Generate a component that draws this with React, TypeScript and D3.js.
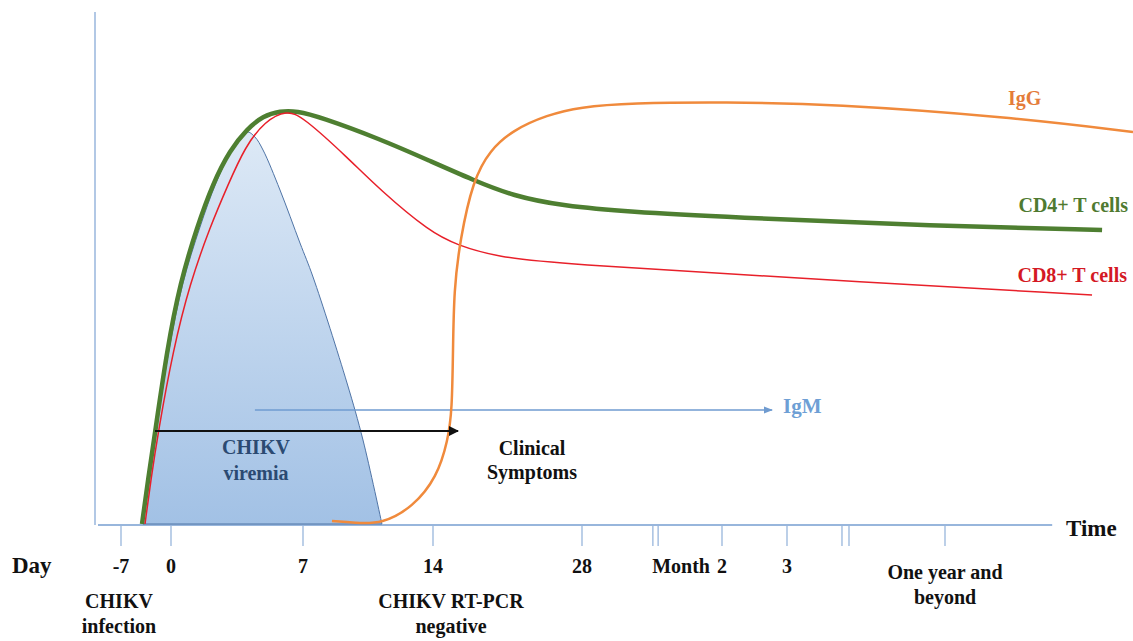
import React from "react";
import * as d3 from "d3";

type P = { day: number; level: number };

// Piecewise timeline: day values of the axis knots and where the axis places them
const knotDays = [-9.5, -7, 0, 7, 14, 28, 60, 90, 365, 700];
const knotPx = [98, 121, 171, 303, 433, 582, 722, 787, 945, 1133];

// Tick marks and labels on the time axis
const tickDays = [-7, 0, 7, 14, 28, 60, 90, 365];
const tickLabels = ["-7", "0", "7", "14", "28", "2", "3", ""];
const breakDays = [44.2, 45.4, 185.7, 197.9];

// Series (day, relative level 0..100)
const cd4: P[] = [
  { day: -4.06, level: 0 }, { day: -3.2, level: 9.0 }, { day: -2.24, level: 18.2 },
  { day: -0.56, level: 34.8 }, { day: 0.48, level: 48.2 }, { day: 1.38, level: 59.4 },
  { day: 2.23, level: 68.2 }, { day: 3.13, level: 74.8 }, { day: 4.03, level: 79.0 },
  { day: 4.88, level: 81.6 }, { day: 5.78, level: 82.6 }, { day: 6.68, level: 82.6 },
  { day: 7.92, level: 81.4 }, { day: 11.15, level: 77.0 }, { day: 13.84, level: 72.6 },
  { day: 17.76, level: 68.8 }, { day: 21.52, level: 65.6 }, { day: 26.21, level: 63.6 },
  { day: 38.97, level: 62.4 }, { day: 61.38, level: 61.4 }, { day: 352.8, level: 59.6 },
  { day: 644.9, level: 58.8 },
];

const cd8: P[] = [
  { day: -3.64, level: 0 }, { day: -2.8, level: 9.0 }, { day: -1.82, level: 18.2 },
  { day: 0.11, level: 34.8 }, { day: 1.01, level: 48.2 }, { day: 2.07, level: 59.4 },
  { day: 3.02, level: 67.8 }, { day: 3.92, level: 75.4 }, { day: 4.98, level: 80.6 },
  { day: 6.15, level: 82.8 }, { day: 7.0, level: 81.4 }, { day: 9.37, level: 73.4 },
  { day: 11.15, level: 66.8 }, { day: 13.84, level: 58.4 }, { day: 16.25, level: 55.8 },
  { day: 20.01, level: 53.4 }, { day: 26.21, level: 52.0 }, { day: 85.8, level: 49.4 },
  { day: 627, level: 45.8 },
];

const viremia: P[] = [
  { day: -3.92, level: 0 }, { day: -2.1, level: 18.2 }, { day: -0.28, level: 34.8 },
  { day: 0.64, level: 48.2 }, { day: 1.54, level: 59.4 }, { day: 2.39, level: 68.2 },
  { day: 3.23, level: 74.8 }, { day: 4.03, level: 78.4 }, { day: 4.45, level: 77.4 },
  { day: 4.88, level: 74.8 }, { day: 5.78, level: 66.8 }, { day: 6.84, level: 56.2 },
  { day: 7.54, level: 49.4 }, { day: 9.37, level: 28.2 }, { day: 10.23, level: 16.8 },
  { day: 11.25, level: 0 },
];

const igg: P[] = [
  { day: 8.56, level: 0.6 }, { day: 9.8, level: 0.2 }, { day: 11.25, level: 0 },
  { day: 12.92, level: 3.4 }, { day: 14.38, level: 9.4 }, { day: 15.41, level: 16.8 },
  { day: 15.79, level: 22.8 }, { day: 15.88, level: 34.8 }, { day: 15.97, level: 46.8 },
  { day: 16.54, level: 56.8 }, { day: 17.76, level: 68.8 }, { day: 19.36, level: 74.8 },
  { day: 21.52, level: 78.8 }, { day: 24.71, level: 81.8 }, { day: 27.81, level: 83.4 },
  { day: 38.97, level: 84.2 }, { day: 61.38, level: 84.4 }, { day: 166.6, level: 84.0 },
  { day: 479.1, level: 81.4 }, { day: 700, level: 78.4 },
];

// Arrows (start and end)
const igmArrow: P[] = [{ day: 4.45, level: 22.8 }, { day: 83.1, level: 22.8 }];
const symptomArrow: P[] = [{ day: -2.24, level: 18.6 }, { day: 16.35, level: 18.6 }];

const FONT = "'Liberation Serif', 'Times New Roman', serif";

export default function App() {
  const W = 1133, H = 641;
  const x = d3.scaleLinear().domain(knotDays).range(knotPx);
  const y = d3.scaleLinear().domain([0, 100]).range([524, 24]);
  const line = d3.line<P>().x((d) => x(d.day)).y((d) => y(d.level)).curve(d3.curveCatmullRom.alpha(0.5));
  const smooth = d3.line<P>().x((d) => x(d.day)).y((d) => y(d.level)).curve(d3.curveBasis);
  const straight = d3.line<P>().x((d) => x(d.day)).y((d) => y(d.level));

  const x0 = x(-9.5);
  const xEnd = x(556);
  const yBase = y(0);
  const tickLen = 22;
  const labelY = 573;

  const bold = { fontFamily: FONT, fontWeight: 700 } as const;

  return (
    <div style={{ position: "fixed", left: 0, top: 0, background: "#fff" }}>
      <svg width={W} height={H} viewBox={`0 0 ${W} ${H}`}>
        <defs>
          <linearGradient id="vir" x1="0" y1="0" x2="0" y2="1">
            <stop offset="0%" stopColor="#dde9f6" />
            <stop offset="100%" stopColor="#a2c1e5" />
          </linearGradient>
          <marker id="arrBlack" viewBox="0 0 10 10" refX="9" refY="5" markerWidth="5" markerHeight="5" orient="auto">
            <path d="M0,0 L10,5 L0,10 Z" fill="#111" />
          </marker>
          <marker id="arrBlue" viewBox="0 0 10 10" refX="9" refY="5" markerWidth="6" markerHeight="6" orient="auto">
            <path d="M0,1 L10,5 L0,9 Z" fill="#6f9bd0" />
          </marker>
        </defs>

        {/* axes */}
        <line x1={x0 - 3} x2={x0 - 3} y1={y(102.4)} y2={yBase + 1} stroke="#98b6dc" strokeWidth={1.5} />
        <line x1={x0} x2={xEnd} y1={yBase + 1} y2={yBase + 1} stroke="#98b6dc" strokeWidth={2} />
        {tickDays.map((d) => (
          <line key={"t" + d} x1={x(d)} x2={x(d)} y1={yBase + 1} y2={yBase + tickLen} stroke="#98b6dc" strokeWidth={1.3} />
        ))}
        {breakDays.map((d) => (
          <line key={"b" + d} x1={x(d)} x2={x(d)} y1={yBase + 1} y2={yBase + tickLen} stroke="#98b6dc" strokeWidth={1.3} />
        ))}

        {/* viremia */}
        <path d={(line(viremia) || "") + "Z"} fill="url(#vir)" stroke="#4f74a6" strokeWidth={1} />

        {/* IgM arrow */}
        <path d={straight(igmArrow) || ""} stroke="#6f9bd0" strokeWidth={1.5} fill="none" markerEnd="url(#arrBlue)" />

        {/* lines */}
        <path d={smooth(cd4) || ""} stroke="#4e7f31" strokeWidth={4.5} fill="none" />
        <path d={smooth(cd8) || ""} stroke="#e8202a" strokeWidth={1.5} fill="none" />
        <path d={smooth(igg) || ""} stroke="#f08a3c" strokeWidth={2.5} fill="none" />

        {/* symptom arrow */}
        <path d={straight(symptomArrow) || ""} stroke="#111" strokeWidth={2} fill="none" markerEnd="url(#arrBlack)" />

        {/* series labels */}
        <text x={1008} y={105} fontSize={20} fill="#e47c3a" style={bold}>IgG</text>
        <text x={1128} y={212} fontSize={20} fill="#4f7a30" textAnchor="end" style={bold}>CD4+ T cells</text>
        <text x={1127} y={282} fontSize={20} fill="#d41924" textAnchor="end" style={bold}>CD8+ T cells</text>
        <text x={x(83.1) + 11} y={413} fontSize={21} fill="#6e9fd5" style={bold}>IgM</text>

        <text x={256} y={454} fontSize={20} fill="#2b4a72" textAnchor="middle" style={bold}>CHIKV</text>
        <text x={256} y={480} fontSize={20} fill="#2b4a72" textAnchor="middle" style={bold}>viremia</text>
        <text x={532} y={455} fontSize={20} fill="#111" textAnchor="middle" style={bold}>Clinical</text>
        <text x={532} y={479} fontSize={20} fill="#111" textAnchor="middle" style={bold}>Symptoms</text>

        {/* axis labels */}
        <text x={12} y={labelY} fontSize={23} fill="#111" style={bold}>Day</text>
        <text x={1066} y={536} fontSize={23} fill="#111" style={bold}>Time</text>
        {tickDays.map((d, i) => (
          <text key={"l" + d} x={x(d)} y={labelY} fontSize={20} fill="#111" textAnchor="middle" style={bold}>{tickLabels[i]}</text>
        ))}
        <text x={x(60) - 12} y={labelY} fontSize={20} fill="#111" textAnchor="end" style={bold}>Month</text>
        <text x={x(365)} y={579} fontSize={20} fill="#111" textAnchor="middle" style={bold}>One year and</text>
        <text x={x(365)} y={604} fontSize={20} fill="#111" textAnchor="middle" style={bold}>beyond</text>

        <text x={119} y={608} fontSize={20} fill="#111" textAnchor="middle" style={bold}>CHIKV</text>
        <text x={119} y={633} fontSize={20} fill="#111" textAnchor="middle" style={bold}>infection</text>
        <text x={451} y={608} fontSize={20} fill="#111" textAnchor="middle" style={bold}>CHIKV RT-PCR</text>
        <text x={451} y={633} fontSize={20} fill="#111" textAnchor="middle" style={bold}>negative</text>
      </svg>
    </div>
  );
}
